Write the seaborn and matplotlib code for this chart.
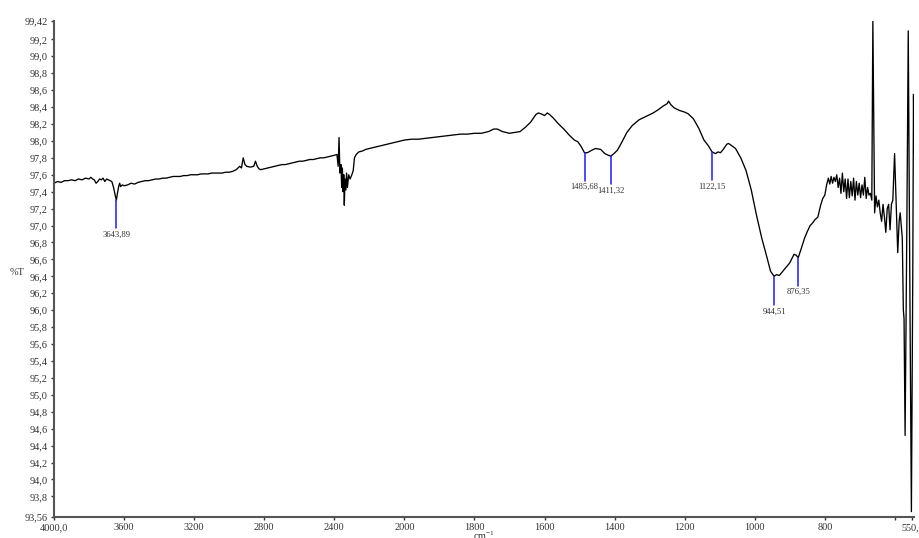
import numpy as np
import pandas as pd
import matplotlib
matplotlib.use("Agg")
import matplotlib.pyplot as plt
import seaborn as sns

# spectrum (wavenumber cm-1, %T)
wavenumber = [
    4000, 3980, 3960, 3940, 3920, 3900, 3880, 3860, 3840, 3820, 3800, 3790, 3780, 3770,
    3760, 3750, 3740, 3730, 3720, 3710, 3700, 3690, 3680, 3670, 3660, 3650, 3644, 3638,
    3630, 3625, 3620, 3610, 3600, 3580, 3560, 3540, 3520, 3500, 3480, 3460, 3440, 3420,
    3400, 3380, 3360, 3340, 3320, 3300, 3280, 3260, 3240, 3220, 3200, 3180, 3160, 3140,
    3120, 3100, 3080, 3060, 3040, 3020, 3000, 2980, 2960, 2940, 2930, 2920, 2910, 2900,
    2880, 2860, 2850, 2840, 2830, 2820, 2800, 2780, 2760, 2740, 2720, 2700, 2680, 2660,
    2640, 2620, 2600, 2580, 2560, 2540, 2520, 2500, 2480, 2460, 2440, 2420, 2400, 2385,
    2378, 2373, 2368, 2362, 2358, 2354, 2350, 2346, 2343, 2339, 2334, 2330, 2325, 2318,
    2310, 2300, 2292, 2285, 2275, 2260, 2240, 2220, 2200, 2180, 2160, 2140, 2120, 2100,
    2080, 2060, 2040, 2020, 2000, 1980, 1960, 1940, 1920, 1900, 1880, 1860, 1840, 1820,
    1800, 1780, 1760, 1745, 1735, 1720, 1700, 1685, 1670, 1655, 1640, 1625, 1618, 1610,
    1600, 1592, 1585, 1575, 1560, 1545, 1530, 1515, 1505, 1495, 1486, 1478, 1465, 1455,
    1440, 1428, 1418, 1411, 1402, 1392, 1380, 1365, 1350, 1330, 1310, 1290, 1275, 1262,
    1250, 1246, 1240, 1230, 1215, 1200, 1190, 1175, 1160, 1145, 1132, 1122, 1112, 1105,
    1098, 1090, 1080, 1075, 1068, 1055, 1040, 1025, 1010, 995, 980, 965, 955, 945,
    938, 930, 920, 910, 900, 888, 882, 876, 868, 858, 850, 842, 835, 828,
    820, 812, 806, 800, 795, 790, 786, 782, 778, 774, 770, 766, 762, 758,
    754, 750, 746, 742, 738, 734, 730, 726, 722, 718, 714, 710, 706, 702,
    698, 694, 690, 686, 682, 678, 674, 670, 666, 663, 658, 654, 650, 646,
    642, 638, 634, 630, 626, 622, 618, 614, 610, 606, 601, 596, 592, 588,
    585, 582, 579, 576, 574, 571, 566, 562, 557, 553, 549, 547, 545,
]
transmittance = [
    97.50, 97.52, 97.51, 97.53, 97.53, 97.54, 97.53, 97.55, 97.54, 97.56, 97.55, 97.57, 97.55, 97.54,
    97.50, 97.52, 97.55, 97.54, 97.56, 97.52, 97.55, 97.54, 97.53, 97.52, 97.45, 97.35, 97.30, 97.38,
    97.47, 97.50, 97.46, 97.48, 97.47, 97.48, 97.50, 97.49, 97.51, 97.52, 97.53, 97.53, 97.54, 97.55,
    97.55, 97.56, 97.56, 97.57, 97.58, 97.58, 97.58, 97.59, 97.59, 97.60, 97.60, 97.60, 97.61, 97.61,
    97.61, 97.62, 97.62, 97.62, 97.62, 97.63, 97.63, 97.64, 97.66, 97.70, 97.68, 97.80, 97.72, 97.70,
    97.69, 97.70, 97.76, 97.70, 97.67, 97.66, 97.67, 97.68, 97.69, 97.70, 97.71, 97.72, 97.72, 97.73,
    97.74, 97.75, 97.76, 97.76, 97.77, 97.78, 97.78, 97.79, 97.80, 97.80, 97.81, 97.82, 97.83, 97.84,
    97.70, 98.04, 97.62, 97.72, 97.45, 97.68, 97.40, 97.60, 97.24, 97.55, 97.42, 97.62, 97.45, 97.60,
    97.55, 97.60, 97.65, 97.80, 97.84, 97.87, 97.88, 97.90, 97.91, 97.92, 97.93, 97.94, 97.95, 97.96,
    97.97, 97.98, 97.99, 98.00, 98.01, 98.02, 98.02, 98.03, 98.04, 98.05, 98.06, 98.07, 98.08, 98.08,
    98.09, 98.09, 98.11, 98.14, 98.14, 98.11, 98.09, 98.10, 98.11, 98.16, 98.22, 98.31, 98.33, 98.32,
    98.30, 98.33, 98.31, 98.27, 98.20, 98.14, 98.07, 98.01, 97.99, 97.93, 97.86, 97.86, 97.89, 97.91,
    97.90, 97.85, 97.83, 97.82, 97.85, 97.89, 97.98, 98.10, 98.18, 98.25, 98.29, 98.33, 98.37, 98.41,
    98.44, 98.47, 98.43, 98.39, 98.36, 98.34, 98.32, 98.26, 98.15, 98.01, 97.94, 97.87, 97.85, 97.87,
    97.86, 97.90, 97.96, 97.97, 97.95, 97.91, 97.80, 97.65, 97.42, 97.12, 96.85, 96.62, 96.46, 96.40,
    96.42, 96.41, 96.46, 96.51, 96.56, 96.66, 96.65, 96.62, 96.72, 96.85, 96.93, 97.00, 97.03, 97.07,
    97.10, 97.24, 97.32, 97.36, 97.48, 97.56, 97.49, 97.58, 97.50, 97.57, 97.52, 97.60, 97.45, 97.56,
    97.38, 97.62, 97.40, 97.55, 97.32, 97.55, 97.33, 97.52, 97.35, 97.56, 97.30, 97.52, 97.36, 97.50,
    97.33, 97.48, 97.36, 97.57, 97.32, 97.45, 97.36, 97.38, 97.30, 99.42, 97.15, 97.35, 97.22, 97.30,
    97.15, 97.05, 97.25, 97.10, 96.92, 97.20, 97.25, 96.95, 97.25, 97.30, 97.85, 97.20, 96.68, 97.05,
    97.15, 97.00, 96.85, 96.00, 95.90, 94.52, 97.00, 99.30, 96.00, 93.62, 96.50, 98.55, 97.85,
]

# marked peaks
peak_wn = [3643.89, 1485.68, 1411.32, 1122.15, 944.51, 876.35]
peak_t = [97.30, 97.86, 97.82, 97.87, 96.39, 96.62]
peak_labels = ["3643,89", "1485,68", "1411,32", "1122,15", "944,51", "876,35"]

x_ticks = [4000, 3600, 3200, 2800, 2400, 2000, 1800, 1600, 1400, 1200, 1000, 800, 600, 550]
x_tick_labels = ["4000,0", "3600", "3200", "2800", "2400", "2000", "1800", "1600",
                 "1400", "1200", "1000", "800", "", "550,0"]
y_ticks = [93.56, 93.8, 94.0, 94.2, 94.4, 94.6, 94.8, 95.0, 95.2, 95.4, 95.6, 95.8, 96.0,
           96.2, 96.4, 96.6, 96.8, 97.0, 97.2, 97.4, 97.6, 97.8, 98.0, 98.2, 98.4, 98.6,
           98.8, 99.0, 99.2, 99.42]
y_tick_labels = ["93,56", "93,8", "94,0", "94,2", "94,4", "94,6", "94,8", "95,0", "95,2",
                 "95,4", "95,6", "95,8", "96,0", "96,2", "96,4", "96,6", "96,8", "97,0",
                 "97,2", "97,4", "97,6", "97,8", "98,0", "98,2", "98,4", "98,6", "98,8",
                 "99,0", "99,2", "99,42"]

df = pd.DataFrame({"wn": wavenumber, "T": transmittance})

sns.set_style("ticks")
plt.rcParams["font.family"] = ["Liberation Serif", "DejaVu Serif"]
plt.rcParams["mathtext.default"] = "regular"


# scale doubles below 2000 cm-1
def fwd(w):
    w = np.asarray(w, dtype=float)
    return np.where(w >= 2000, w, 2 * w - 2000)


def inv(u):
    u = np.asarray(u, dtype=float)
    return np.where(u >= 2000, u, (u + 2000) / 2)


fig = plt.figure(figsize=(9.2, 5.38), dpi=100)
ax = fig.add_axes([0.0587, 0.0396, 0.935, 0.9219])

sns.lineplot(data=df, x="wn", y="T", sort=False, estimator=None,
             color="black", linewidth=0.95, ax=ax)

ax.set_xscale("function", functions=(fwd, inv))
ax.set_xlim(4000, 545)
ax.set_ylim(93.56, 99.42)

# peak markers
for w, t, lab in zip(peak_wn, peak_t, peak_labels):
    ax.plot([w, w], [t, t - 0.33], color="#1a1aff", linewidth=1.1)
    ax.text(w, t - 0.36, lab, ha="center", va="top", fontsize=6.2, color="#333333")

ax.set_xticks(x_ticks)
ax.set_xticklabels(x_tick_labels)
ax.set_yticks(y_ticks)
ax.set_yticklabels(y_tick_labels)
ax.minorticks_off()
ax.tick_params(axis="both", labelsize=7.4, colors="#333333", length=2.5, width=1,
               direction="out", pad=2)

ax.set_xlabel("cm$^{-1}$", fontsize=7.4, color="#333333")
ax.xaxis.set_label_coords(0.5, -0.027)
ax.set_ylabel("%T", fontsize=7.4, color="#333333", rotation=0, va="center")
ax.yaxis.set_label_coords(-0.043, 0.493)

for side in ["top", "right"]:
    ax.spines[side].set_visible(False)
for side in ["left", "bottom"]:
    ax.spines[side].set_color("#555555")
    ax.spines[side].set_linewidth(1.5)

fig.savefig("out.png", dpi=100)
plt.close(fig)
